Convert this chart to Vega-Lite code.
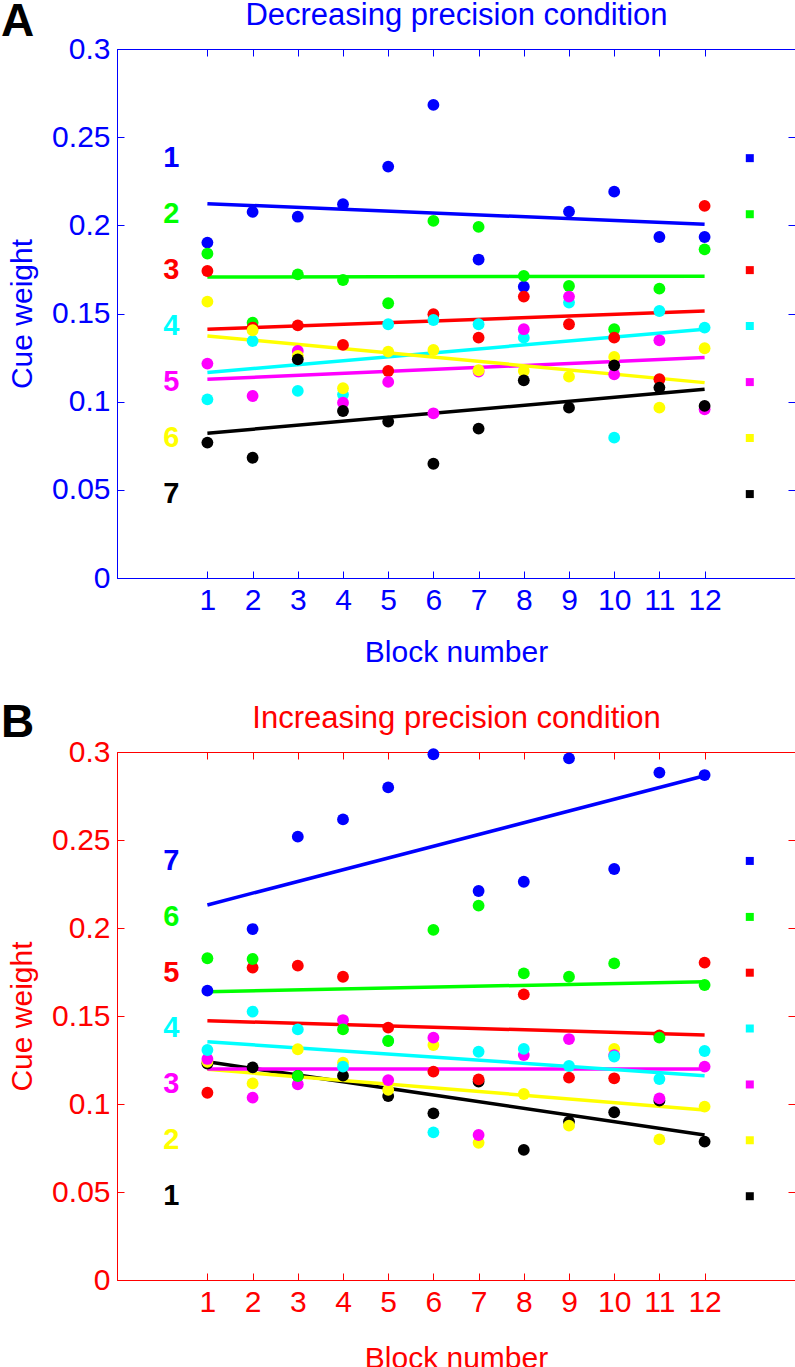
{
"$schema": "https://vega.github.io/schema/vega-lite/v6.json",
"padding": {"top": -2, "left": 0, "right": 0, "bottom": 0},
"spacing": 31,
"datasets": {
"topPts": [
{"cue":1,"block":1,"w":0.1902},{"cue":1,"block":2,"w":0.2076},{"cue":1,"block":3,"w":0.2049},{"cue":1,"block":4,"w":0.2120},{"cue":1,"block":5,"w":0.2333},{"cue":1,"block":6,"w":0.2683},{"cue":1,"block":7,"w":0.1806},{"cue":1,"block":8,"w":0.1652},{"cue":1,"block":9,"w":0.2078},{"cue":1,"block":10,"w":0.2191},{"cue":1,"block":11,"w":0.1934},{"cue":1,"block":12,"w":0.1934},
{"cue":2,"block":1,"w":0.1840},{"cue":2,"block":2,"w":0.1448},{"cue":2,"block":3,"w":0.1722},{"cue":2,"block":4,"w":0.1690},{"cue":2,"block":5,"w":0.1558},{"cue":2,"block":6,"w":0.2025},{"cue":2,"block":7,"w":0.1991},{"cue":2,"block":8,"w":0.1713},{"cue":2,"block":9,"w":0.1656},{"cue":2,"block":10,"w":0.1411},{"cue":2,"block":11,"w":0.1641},{"cue":2,"block":12,"w":0.1864},
{"cue":3,"block":1,"w":0.1741},{"cue":3,"block":2,"w":0.1420},{"cue":3,"block":3,"w":0.1433},{"cue":3,"block":4,"w":0.1322},{"cue":3,"block":5,"w":0.1174},{"cue":3,"block":6,"w":0.1496},{"cue":3,"block":7,"w":0.1363},{"cue":3,"block":8,"w":0.1596},{"cue":3,"block":9,"w":0.1439},{"cue":3,"block":10,"w":0.1363},{"cue":3,"block":11,"w":0.1127},{"cue":3,"block":12,"w":0.2110},
{"cue":4,"block":1,"w":0.1013},{"cue":4,"block":2,"w":0.1344},{"cue":4,"block":3,"w":0.1061},{"cue":4,"block":4,"w":0.1040},{"cue":4,"block":5,"w":0.1439},{"cue":4,"block":6,"w":0.1463},{"cue":4,"block":7,"w":0.1439},{"cue":4,"block":8,"w":0.1363},{"cue":4,"block":9,"w":0.1562},{"cue":4,"block":10,"w":0.0796},{"cue":4,"block":11,"w":0.1514},{"cue":4,"block":12,"w":0.1420},
{"cue":5,"block":1,"w":0.1216},{"cue":5,"block":2,"w":0.1032},{"cue":5,"block":3,"w":0.1288},{"cue":5,"block":4,"w":0.0994},{"cue":5,"block":5,"w":0.1112},{"cue":5,"block":6,"w":0.0934},{"cue":5,"block":7,"w":0.1170},{"cue":5,"block":8,"w":0.1411},{"cue":5,"block":9,"w":0.1596},{"cue":5,"block":10,"w":0.1155},{"cue":5,"block":11,"w":0.1348},{"cue":5,"block":12,"w":0.0957},
{"cue":6,"block":1,"w":0.1567},{"cue":6,"block":2,"w":0.1405},{"cue":6,"block":3,"w":0.1260},{"cue":6,"block":4,"w":0.1076},{"cue":6,"block":5,"w":0.1284},{"cue":6,"block":6,"w":0.1293},{"cue":6,"block":7,"w":0.1178},{"cue":6,"block":8,"w":0.1174},{"cue":6,"block":9,"w":0.1142},{"cue":6,"block":10,"w":0.1254},{"cue":6,"block":11,"w":0.0966},{"cue":6,"block":12,"w":0.1303},
{"cue":7,"block":1,"w":0.0768},{"cue":7,"block":2,"w":0.0682},{"cue":7,"block":3,"w":0.1240},{"cue":7,"block":4,"w":0.0947},{"cue":7,"block":5,"w":0.0887},{"cue":7,"block":6,"w":0.0648},{"cue":7,"block":7,"w":0.0847},{"cue":7,"block":8,"w":0.1121},{"cue":7,"block":9,"w":0.0966},{"cue":7,"block":10,"w":0.1206},{"cue":7,"block":11,"w":0.1080},{"cue":7,"block":12,"w":0.0976}
],
"topFit": [
{"cue":1,"block":1,"w":0.2123},{"cue":1,"block":12,"w":0.2006},
{"cue":2,"block":1,"w":0.1707},{"cue":2,"block":12,"w":0.1711},
{"cue":3,"block":1,"w":0.1411},{"cue":3,"block":12,"w":0.1514},
{"cue":4,"block":1,"w":0.1165},{"cue":4,"block":12,"w":0.1411},
{"cue":5,"block":1,"w":0.1127},{"cue":5,"block":12,"w":0.1250},
{"cue":6,"block":1,"w":0.1373},{"cue":6,"block":12,"w":0.1108},
{"cue":7,"block":1,"w":0.0821},{"cue":7,"block":12,"w":0.1070}
],
"topKey": [
{"cue":1,"w":0.2381},{"cue":2,"w":0.2063},{"cue":3,"w":0.1746},{"cue":4,"w":0.1429},{"cue":5,"w":0.1111},{"cue":6,"w":0.0794},{"cue":7,"w":0.0476}
],
"botPts": [
{"cue":1,"block":1,"w":0.1230},{"cue":1,"block":2,"w":0.1208},{"cue":1,"block":3,"w":0.1160},{"cue":1,"block":4,"w":0.1161},{"cue":1,"block":5,"w":0.1045},{"cue":1,"block":6,"w":0.0947},{"cue":1,"block":7,"w":0.1127},{"cue":1,"block":8,"w":0.0739},{"cue":1,"block":9,"w":0.0900},{"cue":1,"block":10,"w":0.0953},{"cue":1,"block":11,"w":0.1019},{"cue":1,"block":12,"w":0.0786},
{"cue":2,"block":1,"w":0.1240},{"cue":2,"block":2,"w":0.1117},{"cue":2,"block":3,"w":0.1311},{"cue":2,"block":4,"w":0.1235},{"cue":2,"block":5,"w":0.1080},{"cue":2,"block":6,"w":0.1335},{"cue":2,"block":7,"w":0.0780},{"cue":2,"block":8,"w":0.1057},{"cue":2,"block":9,"w":0.0877},{"cue":2,"block":10,"w":0.1313},{"cue":2,"block":11,"w":0.0799},{"cue":2,"block":12,"w":0.0985},
{"cue":3,"block":1,"w":0.1256},{"cue":3,"block":2,"w":0.1036},{"cue":3,"block":3,"w":0.1112},{"cue":3,"block":4,"w":0.1477},{"cue":3,"block":5,"w":0.1136},{"cue":3,"block":6,"w":0.1377},{"cue":3,"block":7,"w":0.0824},{"cue":3,"block":8,"w":0.1278},{"cue":3,"block":9,"w":0.1369},{"cue":3,"block":10,"w":0.1278},{"cue":3,"block":11,"w":0.1032},{"cue":3,"block":12,"w":0.1212},
{"cue":4,"block":1,"w":0.1307},{"cue":4,"block":2,"w":0.1525},{"cue":4,"block":3,"w":0.1424},{"cue":4,"block":4,"w":0.1212},{"cue":4,"block":5,"w":0.1360},{"cue":4,"block":6,"w":0.0839},{"cue":4,"block":7,"w":0.1297},{"cue":4,"block":8,"w":0.1313},{"cue":4,"block":9,"w":0.1216},{"cue":4,"block":10,"w":0.1270},{"cue":4,"block":11,"w":0.1142},{"cue":4,"block":12,"w":0.1301},
{"cue":5,"block":1,"w":0.1064},{"cue":5,"block":2,"w":0.1775},{"cue":5,"block":3,"w":0.1786},{"cue":5,"block":4,"w":0.1723},{"cue":5,"block":5,"w":0.1434},{"cue":5,"block":6,"w":0.1184},{"cue":5,"block":7,"w":0.1140},{"cue":5,"block":8,"w":0.1623},{"cue":5,"block":9,"w":0.1150},{"cue":5,"block":10,"w":0.1146},{"cue":5,"block":11,"w":0.1390},{"cue":5,"block":12,"w":0.1803},
{"cue":6,"block":1,"w":0.1828},{"cue":6,"block":2,"w":0.1824},{"cue":6,"block":3,"w":0.1159},{"cue":6,"block":4,"w":0.1424},{"cue":6,"block":5,"w":0.1358},{"cue":6,"block":6,"w":0.1989},{"cue":6,"block":7,"w":0.2127},{"cue":6,"block":8,"w":0.1742},{"cue":6,"block":9,"w":0.1723},{"cue":6,"block":10,"w":0.1799},{"cue":6,"block":11,"w":0.1377},{"cue":6,"block":12,"w":0.1676},
{"cue":7,"block":1,"w":0.1644},{"cue":7,"block":2,"w":0.1994},{"cue":7,"block":3,"w":0.2519},{"cue":7,"block":4,"w":0.2617},{"cue":7,"block":5,"w":0.2799},{"cue":7,"block":6,"w":0.2987},{"cue":7,"block":7,"w":0.2210},{"cue":7,"block":8,"w":0.2263},{"cue":7,"block":9,"w":0.2964},{"cue":7,"block":10,"w":0.2335},{"cue":7,"block":11,"w":0.2883},{"cue":7,"block":12,"w":0.2869}
],
"botFit": [
{"cue":1,"block":1,"w":0.1240},{"cue":1,"block":12,"w":0.0824},
{"cue":2,"block":1,"w":0.1197},{"cue":2,"block":12,"w":0.0966},
{"cue":3,"block":1,"w":0.1199},{"cue":3,"block":12,"w":0.1199},
{"cue":4,"block":1,"w":0.1354},{"cue":4,"block":12,"w":0.1161},
{"cue":5,"block":1,"w":0.1473},{"cue":5,"block":12,"w":0.1392},
{"cue":6,"block":1,"w":0.1638},{"cue":6,"block":12,"w":0.1695},
{"cue":7,"block":1,"w":0.2131},{"cue":7,"block":12,"w":0.2865}
],
"botKey": [
{"cue":7,"w":0.2381},{"cue":6,"w":0.2063},{"cue":5,"w":0.1746},{"cue":4,"w":0.1429},{"cue":3,"w":0.1111},{"cue":2,"w":0.0794},{"cue":1,"w":0.0476}
]
},
"vconcat": [
{
"width": 678, "height": 529,
"view": {"stroke": "#0000ff"},
"resolve": {"axis": {"x": "independent", "y": "independent"}},
"layer": [
{"data": {"name": "topFit"}, "mark": {"type": "line", "strokeWidth": 3.5},
 "encoding": {
  "x": {"field": "block", "type": "quantitative", "scale": {"domain": [-1, 14], "nice": false, "zero": false}, "axis": null},
  "y": {"field": "w", "type": "quantitative", "scale": {"domain": [0, 0.3], "nice": false}, "axis": null},
  "color": {"field": "cue", "type": "ordinal", "scale": {"domain": [1,2,3,4,5,6,7], "range": ["#0000ff","#00ff00","#ff0000","#00ffff","#ff00ff","#ffff00","#000000"]}, "legend": null}}},
{"data": {"name": "topPts"}, "mark": {"type": "circle", "size": 140, "opacity": 1},
 "encoding": {
  "x": {"field": "block", "type": "quantitative", "scale": {"domain": [-1, 14], "nice": false, "zero": false},
   "axis": {"orient": "bottom", "values": [1,2,3,4,5,6,7,8,9,10,11,12], "title": "Block number", "titlePadding": 22, "labelColor": "#0000ff", "titleColor": "#0000ff", "domainColor": "#0000ff", "tickColor": "#0000ff"}},
  "y": {"field": "w", "type": "quantitative", "scale": {"domain": [0, 0.3], "nice": false},
   "axis": {"orient": "left", "values": [0,0.05,0.1,0.15,0.2,0.25,0.3], "format": ".2~f", "title": "Cue weight", "labelColor": "#0000ff", "titleColor": "#0000ff", "domainColor": "#0000ff", "tickColor": "#0000ff"}},
  "color": {"field": "cue", "type": "ordinal", "scale": {"domain": [1,2,3,4,5,6,7], "range": ["#0000ff","#00ff00","#ff0000","#00ffff","#ff00ff","#ffff00","#000000"]}, "legend": null},
  "order": {"field": "cue"}}},
{"data": {"name": "topKey"}, "mark": {"type": "square", "size": 64, "opacity": 1},
 "encoding": {
  "x": {"datum": 13, "type": "quantitative", "scale": {"domain": [-1, 14], "nice": false, "zero": false},
   "axis": {"orient": "top", "values": [1,2,3,4,5,6,7,8,9,10,11,12], "labels": false, "title": "Decreasing precision condition", "titleColor": "#0000ff", "titleFontSize": 31, "titleBaseline": "alphabetic", "titlePadding": 24, "domainColor": "#0000ff", "tickColor": "#0000ff"}},
  "y": {"field": "w", "type": "quantitative", "scale": {"domain": [0, 0.3], "nice": false},
   "axis": {"orient": "right", "values": [0,0.05,0.1,0.15,0.2,0.25,0.3], "labels": false, "title": null, "domainColor": "#0000ff", "tickColor": "#0000ff"}},
  "color": {"field": "cue", "type": "ordinal", "scale": {"domain": [1,2,3,4,5,6,7], "range": ["#0000ff","#00ff00","#ff0000","#00ffff","#ff00ff","#ffff00","#000000"]}, "legend": null}}},
{"data": {"name": "topKey"}, "mark": {"type": "text", "fontSize": 29, "fontWeight": "bold", "baseline": "middle", "align": "center"},
 "encoding": {
  "x": {"datum": 0.2, "type": "quantitative", "scale": {"domain": [-1, 14], "nice": false, "zero": false}, "axis": null},
  "y": {"field": "w", "type": "quantitative", "scale": {"domain": [0, 0.3], "nice": false}, "axis": null},
  "text": {"field": "cue"},
  "color": {"field": "cue", "type": "ordinal", "scale": {"domain": [1,2,3,4,5,6,7], "range": ["#0000ff","#00ff00","#ff0000","#00ffff","#ff00ff","#ffff00","#000000"]}, "legend": null}}},
{"data": {"values": [{"panel": "A"}]}, "mark": {"type": "text", "fontSize": 46, "fontWeight": "bold", "baseline": "alphabetic", "align": "center", "color": "#000000"},
 "encoding": {
  "x": {"datum": -3.2, "type": "quantitative", "scale": {"domain": [-1, 14], "nice": false, "zero": false}, "axis": null},
  "y": {"datum": 0.3074, "type": "quantitative", "scale": {"domain": [0, 0.3], "nice": false}, "axis": null},
  "text": {"field": "panel"}}}
]
},
{
"width": 678, "height": 528,
"view": {"stroke": "#ff0000"},
"resolve": {"axis": {"x": "independent", "y": "independent"}},
"layer": [
{"data": {"name": "botFit"}, "mark": {"type": "line", "strokeWidth": 3.5},
 "encoding": {
  "x": {"field": "block", "type": "quantitative", "scale": {"domain": [-1, 14], "nice": false, "zero": false}, "axis": null},
  "y": {"field": "w", "type": "quantitative", "scale": {"domain": [0, 0.3], "nice": false}, "axis": null},
  "color": {"field": "cue", "type": "ordinal", "scale": {"domain": [7,6,5,4,3,2,1], "range": ["#0000ff","#00ff00","#ff0000","#00ffff","#ff00ff","#ffff00","#000000"]}, "legend": null}}},
{"data": {"name": "botPts"}, "mark": {"type": "circle", "size": 140, "opacity": 1},
 "encoding": {
  "x": {"field": "block", "type": "quantitative", "scale": {"domain": [-1, 14], "nice": false, "zero": false},
   "axis": {"orient": "bottom", "values": [1,2,3,4,5,6,7,8,9,10,11,12], "title": "Block number", "titlePadding": 26, "labelColor": "#ff0000", "titleColor": "#ff0000", "domainColor": "#ff0000", "tickColor": "#ff0000"}},
  "y": {"field": "w", "type": "quantitative", "scale": {"domain": [0, 0.3], "nice": false},
   "axis": {"orient": "left", "values": [0,0.05,0.1,0.15,0.2,0.25,0.3], "format": ".2~f", "title": "Cue weight", "labelColor": "#ff0000", "titleColor": "#ff0000", "domainColor": "#ff0000", "tickColor": "#ff0000"}},
  "color": {"field": "cue", "type": "ordinal", "scale": {"domain": [7,6,5,4,3,2,1], "range": ["#0000ff","#00ff00","#ff0000","#00ffff","#ff00ff","#ffff00","#000000"]}, "legend": null},
  "order": {"field": "cue"}}},
{"data": {"name": "botKey"}, "mark": {"type": "square", "size": 64, "opacity": 1},
 "encoding": {
  "x": {"datum": 13, "type": "quantitative", "scale": {"domain": [-1, 14], "nice": false, "zero": false},
   "axis": {"orient": "top", "values": [1,2,3,4,5,6,7,8,9,10,11,12], "labels": false, "title": "Increasing precision condition", "titleColor": "#ff0000", "titleFontSize": 31, "titleBaseline": "alphabetic", "titlePadding": 24, "domainColor": "#ff0000", "tickColor": "#ff0000"}},
  "y": {"field": "w", "type": "quantitative", "scale": {"domain": [0, 0.3], "nice": false},
   "axis": {"orient": "right", "values": [0,0.05,0.1,0.15,0.2,0.25,0.3], "labels": false, "title": null, "domainColor": "#ff0000", "tickColor": "#ff0000"}},
  "color": {"field": "cue", "type": "ordinal", "scale": {"domain": [7,6,5,4,3,2,1], "range": ["#0000ff","#00ff00","#ff0000","#00ffff","#ff00ff","#ffff00","#000000"]}, "legend": null}}},
{"data": {"name": "botKey"}, "mark": {"type": "text", "fontSize": 29, "fontWeight": "bold", "baseline": "middle", "align": "center"},
 "encoding": {
  "x": {"datum": 0.2, "type": "quantitative", "scale": {"domain": [-1, 14], "nice": false, "zero": false}, "axis": null},
  "y": {"field": "w", "type": "quantitative", "scale": {"domain": [0, 0.3], "nice": false}, "axis": null},
  "text": {"field": "cue"},
  "color": {"field": "cue", "type": "ordinal", "scale": {"domain": [7,6,5,4,3,2,1], "range": ["#0000ff","#00ff00","#ff0000","#00ffff","#ff00ff","#ffff00","#000000"]}, "legend": null}}},
{"data": {"values": [{"panel": "B"}]}, "mark": {"type": "text", "fontSize": 46, "fontWeight": "bold", "baseline": "alphabetic", "align": "center", "color": "#000000"},
 "encoding": {
  "x": {"datum": -3.2, "type": "quantitative", "scale": {"domain": [-1, 14], "nice": false, "zero": false}, "axis": null},
  "y": {"datum": 0.3085, "type": "quantitative", "scale": {"domain": [0, 0.3], "nice": false}, "axis": null},
  "text": {"field": "panel"}}}
]
}
],
"resolve": {"scale": {"color": "independent"}},
"config": {
 "font": "Liberation Sans",
 "background": "white",
 "view": {"strokeWidth": 1},
 "axis": {"grid": false, "labelFontSize": 30, "titleFontSize": 30, "titleFontWeight": "normal", "tickSize": -7, "tickWidth": 1, "domainWidth": 1, "labelPadding": 14, "titlePadding": 14, "labelFlush": false, "labelOverlap": false}
}
}
